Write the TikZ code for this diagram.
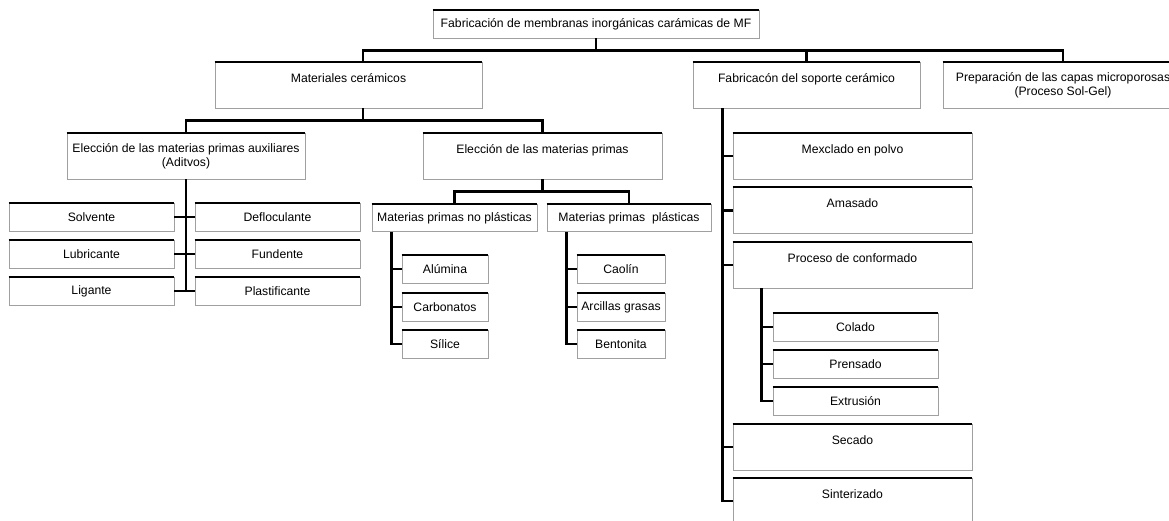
\documentclass[tikz,border=0pt]{standalone}
\usepackage{fontspec}
\setmainfont{Liberation Sans}
\usepackage{xcolor}
\definecolor{boxgrey}{RGB}{160,160,160}
\usepackage{tikz}
\usetikzlibrary{positioning,calc}
\tikzset{
  box/.style={draw=boxgrey, line width=0.9pt, fill=white, align=center, inner sep=1.5pt, minimum height=28pt, font=\fontsize{12.2}{13.8}\selectfont, append after command={(\tikzlastnode.north west) edge[topline] (\tikzlastnode.north east)}},
  tallbox/.style={box, minimum height=46pt, text height=9pt, text depth=15pt},
  twobox/.style={box, minimum height=46pt},
  topline/.style={draw=black, line width=2pt},
  conn/.style={draw=black, line width=2.8pt}
}

\begin{document}
\begin{tikzpicture}[x=1pt, y=-1pt]
  \useasboundingbox (0,0) rectangle (1169,520);
  \clip (0,0) rectangle (1169,520);
  % top level
  \node[box, minimum width=326pt] (top) at (596,24) {Fabricación de membranas inorgánicas carámicas de MF};
  \node[tallbox, minimum width=267pt] (mat) at (348.5,85) {Materiales cerámicos};
  \node[tallbox, minimum width=227pt] (sop) at (806.5,85) {Fabricacón del soporte cerámico};
  \node[twobox, minimum width=240pt] (prep) at (1063,85) {Preparación de las capas microporosas\\(Proceso Sol-Gel)};
  % materiales
  \node[twobox, minimum width=238pt] (aux) at (186,156) {Elección de las materias primas auxiliares\\(Aditvos)};
  \node[tallbox, minimum width=239pt] (prim) at (542.5,156) {Elección de las materias primas};
  \node[box, minimum width=165pt] (solv) at (91.5,217) {Solvente};
  \node[box, minimum width=165pt] (lubr) at (91.5,254) {Lubricante};
  \node[box, minimum width=165pt] (lig) at (91.5,291) {Ligante};
  \node[box, minimum width=165pt] (deflo) at (277.5,217) {Defloculante};
  \node[box, minimum width=165pt] (fund) at (277.5,254) {Fundente};
  \node[box, minimum width=165pt] (plast) at (277.5,291) {Plastificante};
  \node[box, minimum width=165pt, minimum height=27pt] (noplas) at (454.5,218) {Materias primas no plásticas};
  \node[box, minimum width=164pt, minimum height=27pt] (plas) at (629,218) {Materias primas\ \ plásticas};
  \node[box, minimum width=86pt] (alu) at (445,269) {Alúmina};
  \node[box, minimum width=86pt] (carb) at (445,307) {Carbonatos};
  \node[box, minimum width=86pt] (sil) at (445,344) {Sílice};
  \node[box, minimum width=88pt] (cao) at (621,269) {Caolín};
  \node[box, minimum width=88pt] (arc) at (621,307) {Arcillas grasas};
  \node[box, minimum width=88pt] (bent) at (621,344) {Bentonita};
  % soporte
  \node[tallbox, minimum width=239pt] (mex) at (852.5,156) {Mexclado en polvo};
  \node[tallbox, minimum width=239pt] (amas) at (852.5,210.5) {Amasado};
  \node[tallbox, minimum width=239pt] (conf) at (852.5,265) {Proceso de conformado};
  \node[box, minimum width=165pt] (col) at (855.5,327) {Colado};
  \node[box, minimum width=165pt] (pren) at (855.5,364) {Prensado};
  \node[box, minimum width=165pt] (extr) at (855.5,401) {Extrusión};
  \node[tallbox, minimum width=239pt] (sec) at (852.5,447) {Secado};
  \node[tallbox, minimum width=239pt] (sint) at (852.5,501) {Sinterizado};

  % buses
  \draw[conn] (top.south) -- ++(0,12) coordinate (b1);
  \draw[conn] ([xshift=14.5pt]mat.north) |- (b1) -| (prep.north);
  \draw[conn] (sop.north) -- (sop.north |- b1);
  \draw[conn] ([xshift=14.5pt]mat.south) -- ++(0,12) coordinate (b2);
  \draw[conn] (aux.north) |- (b2) -| (prim.north);
  \draw[conn] (prim.south) -- ++(0,12) coordinate (b3);
  \draw[conn] (noplas.north) |- (b3) -| (plas.north);
  % aditivos
  \draw[conn] (lig.east) -| (aux.south);
  \foreach \l/\r in {solv/deflo, lubr/fund, lig/plast}
    \draw[conn] (\l.east) -- (\r.west);
  % trunks
  \coordinate (tn) at ([xshift=20pt]noplas.south west);
  \draw[conn] (tn) |- (sil.west);
  \foreach \n in {alu, carb}
    \draw[conn] (\n.west) -- (\n.west -| tn);
  \coordinate (tp) at ([xshift=20pt]plas.south west);
  \draw[conn] (tp) |- (bent.west);
  \foreach \n in {cao, arc}
    \draw[conn] (\n.west) -- (\n.west -| tp);
  \coordinate (ts) at ([xshift=30pt]sop.south west);
  \draw[conn] (ts) |- (sint.west);
  \foreach \n in {mex, amas, conf, sec}
    \draw[conn] (\n.west) -- (\n.west -| ts);
  \coordinate (tc) at ([xshift=29pt]conf.south west);
  \draw[conn] (tc) |- (extr.west);
  \foreach \n in {col, pren}
    \draw[conn] (\n.west) -- (\n.west -| tc);
\end{tikzpicture}
\end{document}
